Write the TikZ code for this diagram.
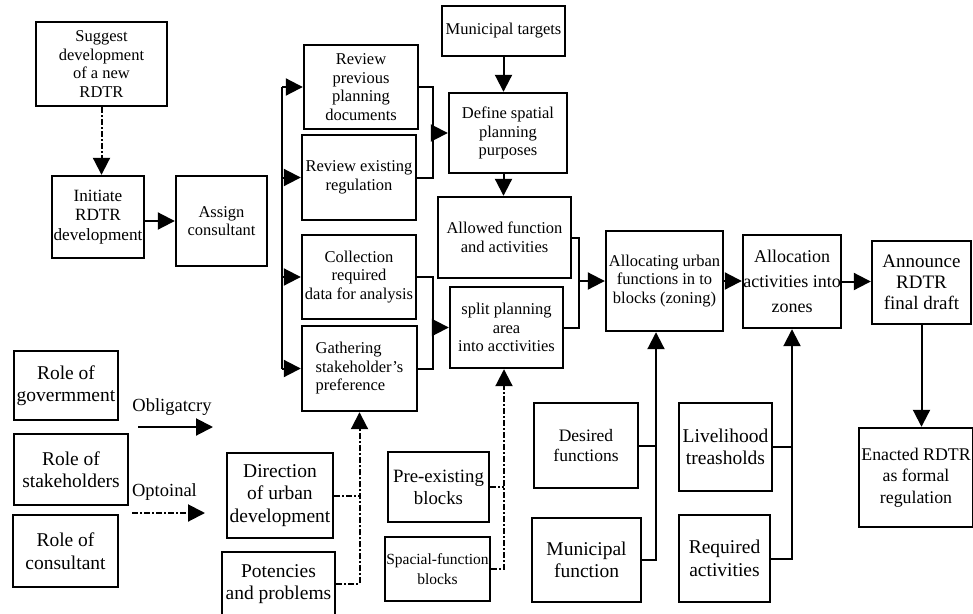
\documentclass[tikz,border=0pt]{standalone}
\usepackage{fontspec}
\setmainfont{Liberation Serif}
\usetikzlibrary{arrows.meta}

\tikzset{every picture/.style={line width=2pt}}
\tikzset{
  box/.style={draw, line width=2.4pt, inner sep=0pt, align=center, font=\fontsize{16.5}{18.5}\selectfont},
  bigtext/.style={font=\fontsize{19.5}{22.5}\selectfont},
  arr/.style={-{Triangle[length=17pt,width=17pt]}},
  optline/.style={dash pattern=on 6pt off 2pt on 2pt off 2pt},
}

\begin{document}
\begin{tikzpicture}[x=1pt,y=1pt,yscale=-1,xscale=1]
\useasboundingbox (0,0) rectangle (973,613);

%Shape: Rectangle
\draw (101.5,64) node (suggest) [box, minimum width=131pt, minimum height=84pt] {Suggest\\development\\of a new\\RDTR};
%Shape: Rectangle
\draw (98,217) node (initiate) [box, minimum width=92pt, minimum height=82pt, font=\fontsize{17.2}{19.5}\selectfont] {Initiate\\RDTR\\development};
%Shape: Rectangle
\draw (221.5,221) node (assign) [box, minimum width=91pt, minimum height=90pt] {Assign\\consultant};
%Shape: Rectangle
\draw (361,87) node (revprev) [box, minimum width=114pt, minimum height=84pt] {Review\\previous\\planning\\documents};
%Shape: Rectangle
\draw (359,177.5) node (revreg) [box, minimum width=114pt, minimum height=85pt] {Review existing\\regulation};
%Shape: Rectangle
\draw (359,277) node (collect) [box, minimum width=114pt, minimum height=84pt] {Collection\\required\\data for analysis};
%Shape: Rectangle
\draw (359.5,368.5) node (gather) [box, minimum width=115pt, minimum height=85pt, align=left] {Gathering\\stakeholder's\\preference};
%Shape: Rectangle
\draw (503.5,31) node (munic) [box, minimum width=123pt, minimum height=50pt] {Municipal targets};
%Shape: Rectangle
\draw (508,133) node (define) [box, minimum width=118pt, minimum height=80pt] {Define spatial\\planning\\purposes};
%Shape: Rectangle
\draw (504.5,237.5) node (allowed) [box, minimum width=133pt, minimum height=81pt] {Allowed function\\and activities};
%Shape: Rectangle
\draw (506.5,327.5) node (split) [box, minimum width=113pt, minimum height=81pt] {split planning\\area\\into acctivities};
%Shape: Rectangle
\draw (664.5,281) node (allocurb) [box, minimum width=117pt, minimum height=100pt] {Allocating urban\\functions in to\\blocks (zoning)};
%Shape: Rectangle
\draw (792,281.5) node (allocact) [box, minimum width=98pt, minimum height=93pt, font=\fontsize{18}{20}\selectfont] {Allocation\\[5pt]activities into\\[5pt]zones};
%Shape: Rectangle
\draw (921.5,282.5) node (announce) [box, minimum width=99pt, minimum height=83pt, font=\fontsize{19}{21}\selectfont] {Announce\\RDTR\\final draft};
%Shape: Rectangle
\draw (916,477.5) node (enacted) [box, minimum width=114pt, minimum height=99pt, font=\fontsize{17.8}{21.5}\selectfont] {Enacted RDTR\\as formal\\regulation};

%Shape: Rectangle
\draw (66,385.5) node (govrole) [box, bigtext, minimum width=104pt, minimum height=69pt] {Role of\\govermment};
%Shape: Rectangle
\draw (71,469.5) node (stakerole) [box, bigtext, minimum width=114pt, minimum height=71pt] {Role of\\stakeholders};
%Shape: Rectangle
\draw (65.5,551) node (consrole) [box, bigtext, minimum width=105pt, minimum height=72pt] {Role of\\consultant};

%Shape: Rectangle
\draw (280,495.5) node (direction) [box, bigtext, minimum width=106pt, minimum height=85pt] {Direction\\of urban\\development};
%Shape: Rectangle
\draw (278.5,584) node (potencies) [box, bigtext, minimum width=113pt, minimum height=64pt] {Potencies\\and problems};
%Shape: Rectangle
\draw (438.5,487) node (preexist) [box, minimum width=101pt, minimum height=70pt, font=\fontsize{18.8}{22}\selectfont] {Pre-existing\\blocks};
%Shape: Rectangle
\draw (437.5,569) node (spacial) [box, minimum width=105pt, minimum height=64pt, font=\fontsize{15.5}{20}\selectfont] {Spacial-function\\blocks};
%Shape: Rectangle
\draw (586,445.5) node (desired) [box, minimum width=104pt, minimum height=85pt, font=\fontsize{17.5}{20.5}\selectfont] {Desired\\functions};
%Shape: Rectangle
\draw (586.5,560) node (munfunc) [box, bigtext, minimum width=109pt, minimum height=84pt] {Municipal\\function};
%Shape: Rectangle
\draw (725.5,447) node (livelihood) [box, bigtext, minimum width=93pt, minimum height=88pt] {Livelihood\\treasholds};
%Shape: Rectangle
\draw (724.5,558.5) node (required) [box, bigtext, minimum width=91pt, minimum height=87pt] {Required\\activities};

% Text Node
\draw (172,407) node (obl) [font=\fontsize{18.5}{21}\selectfont] {Obligatcry};
% Text Node
\draw (164.5,492) node (opt) [font=\fontsize{18.5}{21}\selectfont] {Optoinal};

\coordinate (busA) at (282,0);
\coordinate (joinA) at (433,0);
\coordinate (joinB) at (579,0);
\coordinate (busB) at (656,0);
\coordinate (busC) at (504,0);
\coordinate (oblS) at (138,427);
\coordinate (oblE) at (213,427);
\coordinate (optS) at (132,513);
\coordinate (optE) at (205,513);

%Straight Lines
\draw [optline, arr] (suggest.south) -- (suggest.south |- initiate.north);
%Straight Lines
\draw [arr] (initiate.east |- assign.west) -- (assign.west);

%Straight Lines
\draw (busA |- revprev.west) -- (busA |- gather.west);
\draw [arr] (busA |- revprev.west) -- (revprev.west);
\draw [arr] (busA |- revreg.west) -- (revreg.west);
\draw [arr] (busA |- collect.west) -- (collect.west);
\draw [arr] (busA |- gather.west) -- (gather.west);

%Straight Lines
\draw (revprev.east) -| (joinA |- revreg.east) -- (revreg.east);
\draw [arr] (joinA |- define.west) -- (define.west);
%Straight Lines
\draw (collect.east) -| (joinA |- gather.east) -- (gather.east);
\draw [arr] (joinA |- split.west) -- (split.west);

%Straight Lines
\draw [arr] (munic.south) -- (munic.south |- define.north);
\draw [arr] (define.south -| munic.south) -- (allowed.north -| munic.south);

%Straight Lines
\draw (allowed.east) -| (joinB |- split.east) -- (split.east);
\draw [arr] (joinB |- allocurb.west) -- (allocurb.west);
\draw [arr] (allocurb.east) -- (allocurb.east -| allocact.west);
\draw [arr] (allocact.east) -- (allocact.east -| announce.west);
\draw [arr] (announce.south) -- (announce.south |- enacted.north);

%Straight Lines
\draw (desired.east) -- (desired.east -| busB);
\draw [arr] (munfunc.east) -| (busB |- allocurb.south);
%Straight Lines
\draw (livelihood.east) -- (livelihood.east -| allocact.south);
\draw [arr] (required.east) -| (allocact.south);

%Straight Lines
\draw [optline] (preexist.east) -- (preexist.east -| busC);
\draw [optline, arr] (spacial.east) -| (busC |- split.south);
%Straight Lines
\draw [optline] (direction.east) -- (direction.east -| gather.south);
\draw [optline, arr] (potencies.east) -| (gather.south);

%Straight Lines
\draw [arr] (oblS) -- (oblE);
\draw [optline, arr] (optS) -- (optE);

\end{tikzpicture}
\end{document}
